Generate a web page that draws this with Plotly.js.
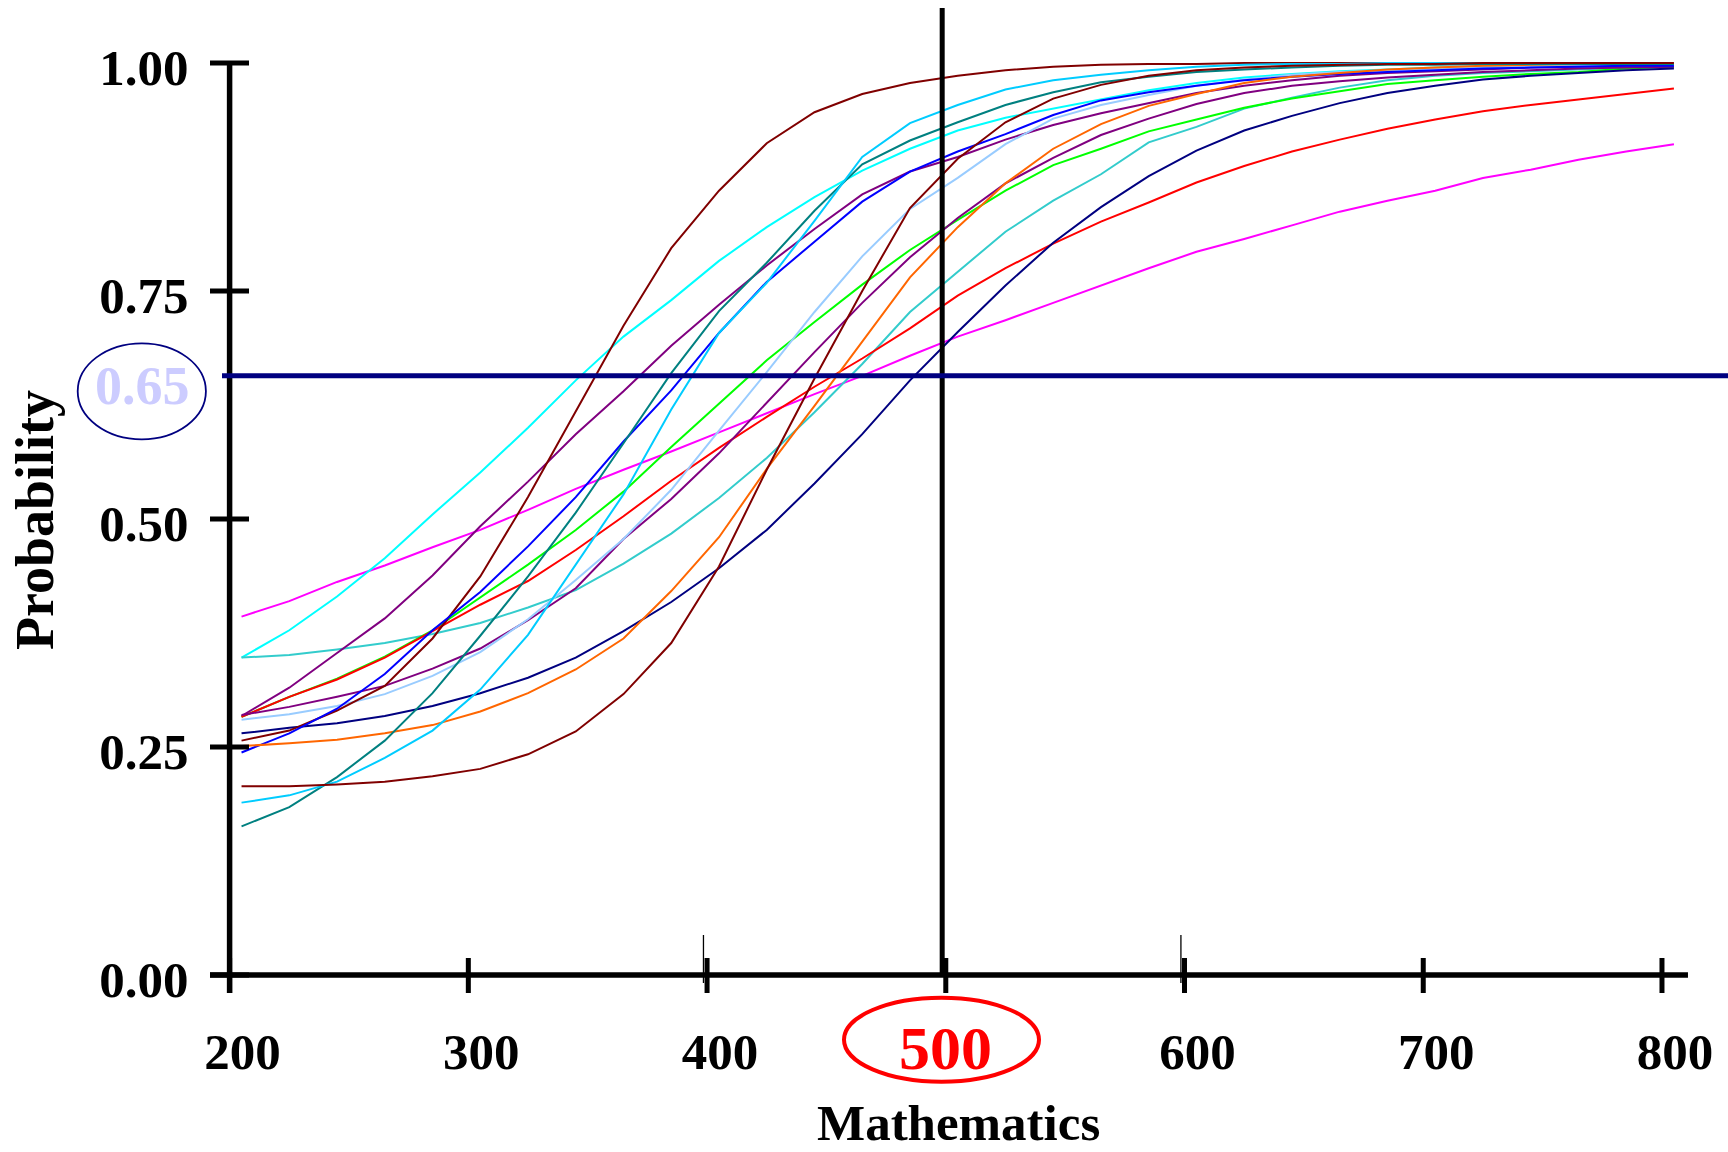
<!DOCTYPE html>
<html>
<head>
<meta charset="utf-8">
<script src="https://cdn.plot.ly/plotly-3.0.1.min.js"></script>
<style>
  html, body { margin: 0; padding: 0; background: #ffffff; }
  #chart { width: 1728px; height: 1152px; }
</style>
</head>
<body>
<div id="chart"></div>
<script>
// ---------------- data ----------------
const scores = [205, 225, 245, 265, 285, 305, 325, 345, 365, 385, 405, 425, 445, 465, 485, 505,
                525, 545, 565, 585, 605, 625, 645, 665, 685, 705, 725, 745, 765, 785, 805];

const xTicks = [200, 300, 400, 500, 600, 700, 800];
const xTickText = ['200', '300', '400', '', '600', '700', '800'];
const yTicks = [0, 0.25, 0.5, 0.75, 1];
const yTickText = ['0.00', '0.25', '0.50', '0.75', '1.00'];

const cutScore = 500;        // highlighted score
const cutScoreLabel = '500';
const cutProb = 0.657;       // drawn probability line
const cutProbLabel = '0.65';
const stubTicks = [400, 600];

const itemMagenta     = [0.393,0.410,0.431,0.449,0.469,0.488,0.510,0.533,0.554,0.574,0.595,0.616,0.637,0.657,0.679,0.700,0.718,0.737,0.756,0.775,0.793,0.807,0.822,0.837,0.849,0.860,0.874,0.883,0.894,0.903,0.911];
const itemCyan        = [0.348,0.378,0.415,0.457,0.505,0.551,0.600,0.652,0.700,0.740,0.783,0.820,0.853,0.882,0.906,0.926,0.940,0.950,0.960,0.970,0.978,0.984,0.988,0.991,0.993,0.995,0.996,0.997,0.998,0.998,0.999];
const itemTurquoise   = [0.348,0.351,0.357,0.364,0.374,0.386,0.403,0.422,0.451,0.484,0.523,0.567,0.617,0.670,0.727,0.771,0.815,0.849,0.878,0.913,0.930,0.950,0.962,0.973,0.981,0.986,0.989,0.991,0.993,0.995,0.997];
const itemPurpleA     = [0.284,0.315,0.353,0.391,0.438,0.492,0.541,0.593,0.640,0.690,0.735,0.778,0.818,0.856,0.881,0.897,0.916,0.932,0.945,0.956,0.967,0.975,0.981,0.986,0.989,0.991,0.993,0.995,0.996,0.997,0.998];
const itemRed         = [0.283,0.305,0.324,0.348,0.377,0.406,0.432,0.466,0.503,0.542,0.578,0.612,0.645,0.676,0.709,0.745,0.775,0.802,0.826,0.847,0.869,0.887,0.903,0.916,0.928,0.938,0.947,0.954,0.960,0.966,0.972];
const itemGreen       = [0.283,0.305,0.325,0.349,0.378,0.414,0.450,0.488,0.530,0.579,0.627,0.674,0.716,0.757,0.795,0.828,0.860,0.888,0.906,0.925,0.938,0.951,0.961,0.969,0.977,0.981,0.985,0.988,0.990,0.994,0.996];
const itemPurpleB     = [0.285,0.294,0.305,0.317,0.336,0.358,0.389,0.424,0.478,0.522,0.572,0.628,0.683,0.737,0.787,0.830,0.868,0.896,0.921,0.939,0.955,0.967,0.975,0.980,0.984,0.987,0.990,0.992,0.994,0.995,0.996];
const itemLightBlue   = [0.280,0.286,0.295,0.308,0.328,0.354,0.390,0.433,0.478,0.532,0.597,0.661,0.727,0.788,0.840,0.874,0.911,0.939,0.954,0.965,0.975,0.982,0.987,0.990,0.992,0.994,0.995,0.996,0.997,0.998,0.998];
const itemNavy        = [0.265,0.271,0.276,0.284,0.295,0.309,0.326,0.348,0.377,0.409,0.446,0.488,0.539,0.593,0.652,0.705,0.756,0.803,0.842,0.876,0.904,0.926,0.942,0.956,0.967,0.975,0.982,0.986,0.989,0.992,0.994];
const itemMaroonEarly = [0.257,0.268,0.290,0.317,0.369,0.437,0.524,0.618,0.712,0.797,0.860,0.912,0.946,0.966,0.978,0.986,0.992,0.996,0.998,0.999,0.999,1.000,1.000,1.000,1.000,1.000,1.000,1.000,1.000,1.000,1.000];
const itemBlue        = [0.244,0.265,0.292,0.330,0.378,0.420,0.470,0.524,0.585,0.641,0.704,0.760,0.804,0.848,0.881,0.903,0.922,0.943,0.959,0.968,0.975,0.981,0.985,0.988,0.990,0.992,0.994,0.995,0.996,0.997,0.997];
const itemOrange      = [0.251,0.254,0.258,0.265,0.274,0.289,0.309,0.335,0.369,0.421,0.480,0.555,0.624,0.694,0.765,0.820,0.868,0.906,0.933,0.953,0.966,0.978,0.985,0.989,0.993,0.995,0.997,0.998,0.999,0.999,1.000];
const itemTeal        = [0.163,0.184,0.217,0.257,0.309,0.372,0.437,0.507,0.583,0.660,0.728,0.781,0.838,0.889,0.915,0.935,0.954,0.968,0.979,0.985,0.990,0.993,0.995,0.997,0.998,0.998,0.999,0.999,0.999,0.999,0.999];
const itemSkyBlue     = [0.189,0.197,0.212,0.238,0.268,0.313,0.373,0.450,0.527,0.620,0.704,0.759,0.827,0.897,0.934,0.954,0.971,0.981,0.987,0.992,0.996,0.998,0.999,0.999,1.000,1.000,1.000,1.000,1.000,1.000,1.000];
const itemMaroonLate  = [0.207,0.207,0.209,0.212,0.218,0.226,0.242,0.267,0.308,0.364,0.448,0.554,0.654,0.750,0.841,0.895,0.935,0.961,0.976,0.986,0.992,0.995,0.997,0.998,0.999,0.999,1.000,1.000,1.000,1.000,1.000];

// ---------------- styling ----------------
const series = [
  { name: 'Item 1',  color: '#FF00FF', y: itemMagenta },
  { name: 'Item 2',  color: '#00FFFF', y: itemCyan },
  { name: 'Item 3',  color: '#33CCCC', y: itemTurquoise },
  { name: 'Item 4',  color: '#800080', y: itemPurpleA },
  { name: 'Item 5',  color: '#00FF00', y: itemGreen },
  { name: 'Item 6',  color: '#FF0000', y: itemRed },
  { name: 'Item 7',  color: '#800080', y: itemPurpleB },
  { name: 'Item 8',  color: '#99CCFF', y: itemLightBlue },
  { name: 'Item 9',  color: '#000080', y: itemNavy },
  { name: 'Item 10', color: '#800000', y: itemMaroonEarly },
  { name: 'Item 11', color: '#0000FF', y: itemBlue },
  { name: 'Item 12', color: '#FF6600', y: itemOrange },
  { name: 'Item 13', color: '#008080', y: itemTeal },
  { name: 'Item 14', color: '#00CCFF', y: itemSkyBlue },
  { name: 'Item 15', color: '#800000', y: itemMaroonLate }
];

const FONT = 'Liberation Serif, Times New Roman, serif';
const W = 1728, H = 1152;
// calibration of the page frame (pixel of x=200 / y=0 and pixels per unit)
const xPxOrigin = 229.6, pxPerX = 2.3873;
const yPxOrigin = 975, pxPerY = 912;
const x0 = xTicks[0], y0 = yTicks[0];
const xRange = [x0 - xPxOrigin / pxPerX, x0 + (W - xPxOrigin) / pxPerX];
const yRange = [y0 - (H - yPxOrigin) / pxPerY, y0 + yPxOrigin / pxPerY];
const dx = p => p / pxPerX;
const dy = p => p / pxPerY;
const pageX = p => xRange[0] + dx(p);
const pageY = p => yRange[1] - dy(p);

const traces = series.map(s => ({
  type: 'scatter', mode: 'lines', name: s.name,
  x: scores, y: s.y,
  line: { color: s.color, width: 2 },
  hoverinfo: 'skip', showlegend: false
}));

const shapes = [];
const axisLine = { color: '#000000', width: 5.5 };
const tickLine = { color: '#000000', width: 5 };
// axes
shapes.push({ type: 'line', xref: 'x', yref: 'y', x0: x0, x1: x0,
  y0: y0 - dy(18), y1: yTicks[yTicks.length - 1], line: axisLine });
shapes.push({ type: 'line', xref: 'x', yref: 'y', x0: x0 - dx(19.6),
  x1: xTicks[xTicks.length - 1] + dx(26), y0: y0, y1: y0, line: axisLine });
// crossing ticks
xTicks.forEach(t => shapes.push({ type: 'line', xref: 'x', yref: 'y',
  x0: t, x1: t, y0: y0 - dy(18), y1: y0 + dy(17), line: tickLine }));
yTicks.forEach(t => shapes.push({ type: 'line', xref: 'x', yref: 'y',
  x0: x0 - dx(19.6), x1: x0 + dx(19.4), y0: t, y1: t, line: tickLine }));
// thin stub marks
stubTicks.forEach(t => shapes.push({ type: 'line', xref: 'x', yref: 'y',
  x0: t - dx(3.6), x1: t - dx(3.6), y0: y0 - dy(8), y1: y0 + dy(40),
  line: { color: '#000000', width: 1.3 } }));
// reference lines
shapes.push({ type: 'line', xref: 'x', yref: 'y', x0: cutScore - dx(3.6), x1: cutScore - dx(3.6),
  y0: y0, y1: pageY(8), line: { color: '#000000', width: 5 } });
shapes.push({ type: 'line', xref: 'x', yref: 'y', x0: x0 - dx(7.6), x1: xRange[1],
  y0: cutProb, y1: cutProb, line: { color: '#000080', width: 5 } });
// ellipses round the highlighted labels
shapes.push({ type: 'circle', xref: 'x', yref: 'y',
  x0: pageX(77.7), x1: pageX(205.9), y0: pageY(439.3), y1: pageY(343.3),
  line: { color: '#000080', width: 1.8 } });
shapes.push({ type: 'circle', xref: 'x', yref: 'y',
  x0: pageX(844), x1: pageX(1039), y0: pageY(1081.7), y1: pageY(997.7),
  line: { color: '#FF0000', width: 4 } });

const annotations = [
  { xref: 'x', yref: 'y', x: pageX(35), y: pageY(520), text: 'Probability',
    textangle: -90, showarrow: false, xanchor: 'center', yanchor: 'middle',
    font: { family: FONT, size: 54, color: '#000000', weight: 'bold' } },
  { xref: 'x', yref: 'y', x: pageX(958), y: pageY(1123), text: 'Mathematics',
    showarrow: false, xanchor: 'center', yanchor: 'middle',
    font: { family: FONT, size: 51, color: '#000000', weight: 'bold' } },
  { xref: 'x', yref: 'y', x: cutScore, y: pageY(1048), text: cutScoreLabel,
    showarrow: false, xanchor: 'center', yanchor: 'middle',
    font: { family: FONT, size: 62, color: '#FF0000', weight: 'bold' } },
  { xref: 'x', yref: 'y', x: pageX(142), y: pageY(386), text: cutProbLabel,
    showarrow: false, xanchor: 'center', yanchor: 'middle',
    font: { family: FONT, size: 54, color: '#CCCCFF', weight: 'bold' } }
];

const tickFont = { family: FONT, size: 51, color: '#000000', weight: 'bold' };

const layout = {
  width: W, height: H,
  margin: { l: 0, r: 0, t: 0, b: 0, pad: 0 },
  paper_bgcolor: '#ffffff', plot_bgcolor: '#ffffff',
  showlegend: false, hovermode: false,
  xaxis: {
    range: xRange, domain: [0, 1], anchor: 'free',
    position: (y0 - yRange[0]) / (yRange[1] - yRange[0]),
    showline: false, showgrid: false, zeroline: false, ticks: '',
    tickmode: 'array', tickvals: xTicks, ticktext: xTickText,
    tickfont: tickFont, ticklabelstandoff: 42, ticklabelshift: 13,
    automargin: false, fixedrange: true
  },
  yaxis: {
    range: yRange, domain: [0, 1], anchor: 'free',
    position: (x0 - xRange[0]) / (xRange[1] - xRange[0]),
    showline: false, showgrid: false, zeroline: false, ticks: '',
    tickmode: 'array', tickvals: yTicks, ticktext: yTickText,
    tickfont: tickFont, ticklabelstandoff: 41, ticklabelshift: 4,
    automargin: false, fixedrange: true
  },
  shapes: shapes,
  annotations: annotations
};

Plotly.newPlot('chart', traces, layout, { displayModeBar: false, staticPlot: true });
</script>
</body>
</html>
